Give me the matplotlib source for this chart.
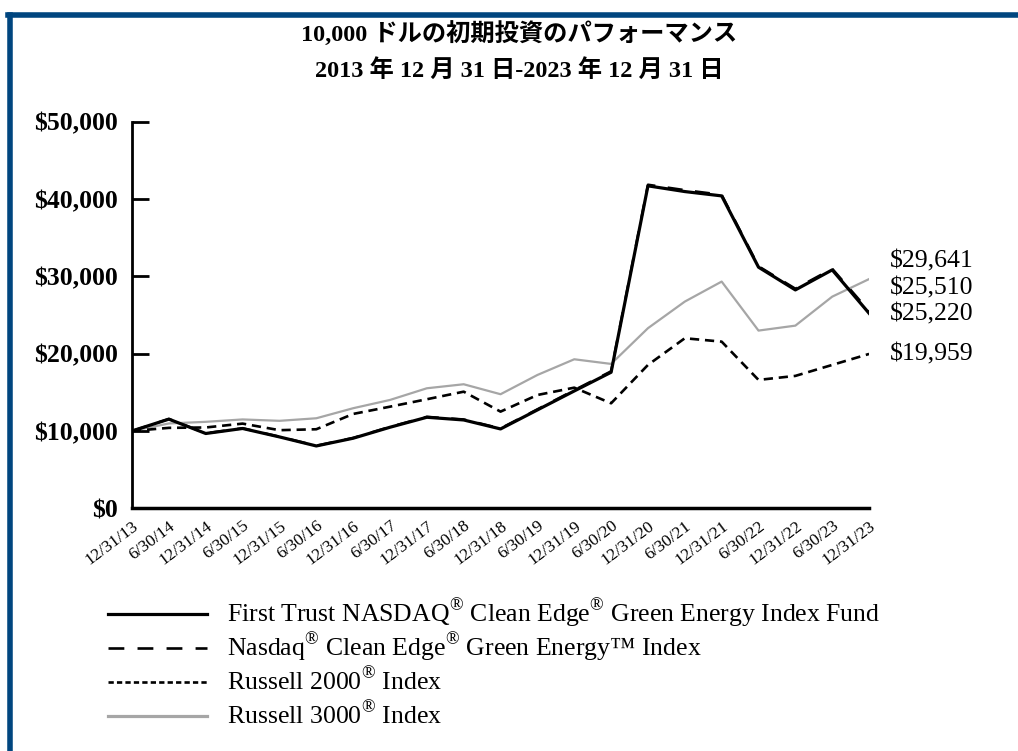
import numpy as np
import matplotlib.pyplot as plt
from matplotlib.lines import Line2D

# semi-annual dates, 12/31/13 .. 12/31/23
dates = ['12/31/13', '6/30/14', '12/31/14', '6/30/15', '12/31/15', '6/30/16', '12/31/16',
         '6/30/17', '12/31/17', '6/30/18', '12/31/18', '6/30/19', '12/31/19', '6/30/20',
         '12/31/20', '6/30/21', '12/31/21', '6/30/22', '12/31/22', '6/30/23', '12/31/23']

fund = [10000, 11530, 9670, 10320, 9230, 8060, 9060, 10480, 11770, 11420, 10260,
        12720, 15170, 17590, 41700, 40960, 40400, 31180, 28240, 30830, 25220]
nasdaq_idx = [10000, 11550, 9700, 10350, 9260, 8090, 9100, 10530, 11830, 11490, 10330,
              12800, 15280, 17720, 41850, 41150, 40550, 31300, 28400, 30980, 25510]
russell2000 = [10000, 10400, 10450, 10950, 10100, 10220, 12200, 13140, 14100, 15080, 12500,
               14650, 15600, 13580, 18540, 21990, 21550, 16600, 17120, 18540, 19959]
russell3000 = [10000, 10970, 11180, 11490, 11310, 11640, 12940, 14010, 15520, 16040, 14750,
               17240, 19270, 18670, 23290, 26730, 29320, 22980, 23620, 27370, 29641]

reg = '$^{\\mathrm{\u00ae}}$'
labels = ['First Trust NASDAQ' + reg + ' Clean Edge' + reg + ' Green Energy Index Fund',
          'Nasdaq' + reg + ' Clean Edge' + reg + ' Green Energy\u2122 Index',
          'Russell 2000' + reg + ' Index',
          'Russell 3000' + reg + ' Index']

yticks = [0, 10000, 20000, 30000, 40000, 50000]
ytick_labels = ['$0', '$10,000', '$20,000', '$30,000', '$40,000', '$50,000']

title1 = '10,000 ドルの初期投資のパフォーマンス'
title2 = '2013 年 12 月 31 日-2023 年 12 月 31 日'

serif = 'Liberation Serif'
blue = '#00467f'
plt.rcParams['mathtext.fontset'] = 'custom'
plt.rcParams['mathtext.rm'] = serif

fig = plt.figure(figsize=(10.18, 7.51), dpi=100)
ax = fig.add_axes([0.1297, 0.3232, 0.724, 0.5148])

x = np.arange(len(dates))
ax.plot(x, russell3000, color='#a6a6a6', lw=1.6)
ax.plot(x, russell2000, color='black', lw=1.9, dashes=(3.5, 2.2))
ax.plot(x, nasdaq_idx, color='black', lw=1.8, dashes=(6, 5))
ax.plot(x, fund, color='black', lw=2.3)

ax.set_xlim(0, 20)
ax.set_ylim(0, 50000)
for s in ['top', 'right']:
    ax.spines[s].set_visible(False)
ax.spines['left'].set_linewidth(2)
ax.spines['bottom'].set_linewidth(2.5)

ax.set_yticks(yticks)
ax.set_yticklabels(ytick_labels, fontfamily=serif, fontweight='bold', fontsize=18.5)
ax.tick_params(axis='y', direction='in', length=12, width=2, pad=10)

ax.set_xticks(x)
ax.set_xticklabels(dates, fontfamily=serif, fontsize=12.5, rotation=37,
                   ha='right', va='top', rotation_mode='anchor')
ax.tick_params(axis='x', length=0, pad=7)

# end value labels, nudged apart where they crowd
end_vals = [russell3000[-1], nasdaq_idx[-1], fund[-1], russell2000[-1]]
end_offsets = [2220, 2860, -90, 0]
for v, off in zip(end_vals, end_offsets):
    ax.text(20.57, v + off, '${:,}'.format(v), fontfamily=serif, fontsize=18.5,
            ha='left', va='center', clip_on=False)

fig.text(0.51, 0.955, title1, ha='center', va='center', fontsize=17.5, fontweight='bold',
         family=[serif, 'Noto Sans CJK JP'])
fig.text(0.51, 0.906, title2, ha='center', va='center', fontsize=17.5, fontweight='bold',
         family=[serif, 'Noto Sans CJK JP'])

# legend, drawn by hand so the rows keep an even spacing
styles = [dict(color='black', lw=2.3),
          dict(color='black', lw=1.9, dashes=(6, 5)),
          dict(color='black', lw=1.9, dashes=(2, 1.2)),
          dict(color='#a6a6a6', lw=2.3)]
H, W = 751.0, 1018.0
for i, (lab, st) in enumerate(zip(labels, styles)):
    yc = 614 + 34 * i
    fig.add_artist(Line2D([108 / W, 207 / W], [1 - yc / H] * 2,
                          transform=fig.transFigure, **st))
    fig.text(227 / W, 1 - (yc + 8) / H, lab, ha='left', va='baseline',
             fontfamily=serif, fontsize=18.5)

# blue frame on left and top
fig.add_artist(Line2D([0.0103, 0.0103], [0, 0.98], color=blue, lw=4, transform=fig.transFigure))
fig.add_artist(Line2D([0.008, 1.0], [0.98, 0.98], color=blue, lw=4, transform=fig.transFigure))

fig.savefig('out.png', dpi=100)
